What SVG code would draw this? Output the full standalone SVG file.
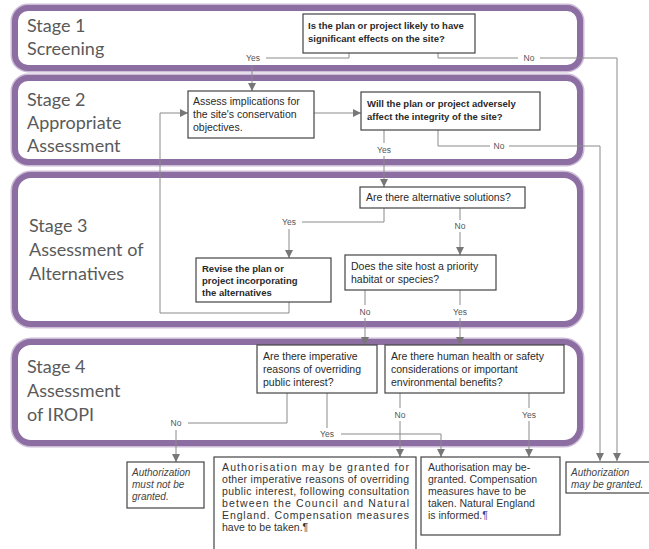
<svg xmlns="http://www.w3.org/2000/svg" width="649" height="549" viewBox="0 0 649 549">
<style>
.stage{fill:#fff;stroke:#8d6ea3;stroke-width:6}
.halo{fill:none;stroke:#cdbcd8;stroke-width:9}
.st{font-family:Lato,"Liberation Sans",sans-serif;font-size:18px;fill:#5a5a5a}
.box{fill:#fff;stroke:#444;stroke-width:1.2}
.q{font-family:"Liberation Sans",Arial,sans-serif;font-size:10.5px;fill:#2a2a2a}
.qb{font-family:"Liberation Sans",Arial,sans-serif;font-size:9.5px;font-weight:bold;fill:#2a2a2a}
.lbl{font-family:"Liberation Sans",Arial,sans-serif;font-size:8.5px;fill:#555;text-anchor:middle}
.it{font-family:"Liberation Sans",Arial,sans-serif;font-size:10px;font-style:italic;fill:#444}
.out{font-family:"Liberation Sans",Arial,sans-serif;font-size:10.5px;fill:#333}
.ln{fill:none;stroke:#8a8a8a;stroke-width:1}
.ar{fill:none;stroke:#8a8a8a;stroke-width:1;marker-end:url(#ah)}
</style>
<defs>
<marker id="ah" markerUnits="userSpaceOnUse" markerWidth="8" markerHeight="8" refX="8" refY="4" orient="auto">
<path d="M0,0 L8,4 L0,8 z" fill="#777"/>
</marker>
</defs>
<rect width="649" height="549" fill="#fff"/>

<g id="stage1">
<rect class="halo" x="15" y="8" width="565" height="60" rx="13"/>
<rect class="stage" x="15" y="8" width="565" height="60" rx="13"/>
<text class="st" x="27" y="32">Stage 1</text>
<text class="st" x="27" y="55">Screening</text>
</g>
<g id="stage2">
<rect class="halo" x="15" y="78" width="565" height="84" rx="13"/>
<rect class="stage" x="15" y="78" width="565" height="84" rx="13"/>
<text class="st" x="27" y="106">Stage 2</text>
<text class="st" x="27" y="129">Appropriate</text>
<text class="st" x="27" y="152">Assessment</text>
</g>
<g id="stage3">
<rect class="halo" x="15" y="175" width="565" height="149" rx="16"/>
<rect class="stage" x="15" y="175" width="565" height="149" rx="16"/>
<text class="st" x="29" y="232">Stage 3</text>
<text class="st" x="29" y="256">Assessment of</text>
<text class="st" x="29" y="280">Alternatives</text>
</g>
<g id="stage4">
<rect class="halo" x="15" y="342" width="565" height="101" rx="16"/>
<rect class="stage" x="15" y="342" width="565" height="101" rx="16"/>
<text class="st" x="27" y="373">Stage 4</text>
<text class="st" x="27" y="397">Assessment</text>
<text class="st" x="27" y="421">of IROPI</text>
</g>

<g id="connectors">
<path class="ln" d="M349,53 V58 H266"/>
<path class="ar" d="M252,65 V91"/>
<path class="ln" d="M438,53 V58 H518"/>
<path class="ar" d="M540,58 H617 V461"/>
<path class="ar" d="M314,113 H361"/>
<path class="ln" d="M384,130 V143"/>
<path class="ar" d="M384,156 V187"/>
<path class="ln" d="M438,130 V146 H490"/>
<path class="ar" d="M509,146 H600 V461"/>
<path class="ln" d="M384,208 V222 H302"/>
<path class="ar" d="M289,229 V258"/>
<path class="ln" d="M460,208 V220"/>
<path class="ar" d="M460,232 V255"/>
<path class="ar" d="M289,302 V313 H160 V113 H188"/>
<path class="ln" d="M365,290 V305"/>
<path class="ar" d="M365,318 V345"/>
<path class="ln" d="M460,290 V305"/>
<path class="ar" d="M460,318 V345"/>
<path class="ln" d="M287,393 V423 H188"/>
<path class="ar" d="M176,430 V462"/>
<path class="ln" d="M327,393 V428"/>
<path class="ar" d="M341,434 H441 V457"/>
<path class="ln" d="M400,393 V408"/>
<path class="ar" d="M400,421 V457"/>
<path class="ln" d="M529,393 V408"/>
<path class="ar" d="M529,421 V457"/>
<text class="lbl" x="253" y="61">Yes</text>
<text class="lbl" x="529" y="61">No</text>
<text class="lbl" x="384" y="153">Yes</text>
<text class="lbl" x="499" y="149">No</text>
<text class="lbl" x="289" y="225">Yes</text>
<text class="lbl" x="460" y="229">No</text>
<text class="lbl" x="365" y="315">No</text>
<text class="lbl" x="460" y="315">Yes</text>
<text class="lbl" x="176" y="426">No</text>
<text class="lbl" x="327" y="437">Yes</text>
<text class="lbl" x="400" y="418">No</text>
<text class="lbl" x="529" y="418">Yes</text>
</g>

<g id="q-screening">
<rect class="box" x="303" y="14" width="172" height="39"/>
<text class="qb" x="308" y="29">Is the plan or project likely to have</text>
<text class="qb" x="308" y="42">significant effects on the site?</text>
</g>
<g id="assess">
<rect class="box" x="188" y="91" width="126" height="47"/>
<text class="q" x="193" y="105">Assess implications for</text>
<text class="q" x="193" y="118">the site's conservation</text>
<text class="q" x="193" y="131">objectives.</text>
</g>
<g id="q-integrity">
<rect class="box" x="361" y="92" width="179" height="38"/>
<text class="qb" x="367" y="107">Will the plan or project adversely</text>
<text class="qb" x="367" y="120">affect the integrity of the site?</text>
</g>
<g id="q-alternatives">
<rect class="box" x="360" y="187" width="165" height="21"/>
<text class="q" x="366" y="201">Are there alternative solutions?</text>
</g>
<g id="revise">
<rect class="box" x="196" y="258" width="135" height="44"/>
<text class="qb" x="202" y="272">Revise the plan or</text>
<text class="qb" x="202" y="284">project incorporating</text>
<text class="qb" x="202" y="296">the alternatives</text>
</g>
<g id="q-priority">
<rect class="box" x="345" y="255" width="151" height="35"/>
<text class="q" x="351" y="270">Does the site host a priority</text>
<text class="q" x="351" y="283">habitat or species?</text>
</g>
<g id="q-iropi">
<rect class="box" x="257" y="345" width="120" height="48"/>
<text class="q" x="263" y="360">Are there imperative</text>
<text class="q" x="263" y="373">reasons of overriding</text>
<text class="q" x="263" y="386">public interest?</text>
</g>
<g id="q-health">
<rect class="box" x="385" y="345" width="179" height="48"/>
<text class="q" x="391" y="360">Are there human health or safety</text>
<text class="q" x="391" y="373">considerations or important</text>
<text class="q" x="391" y="386">environmental benefits?</text>
</g>
<g id="out-refuse">
<rect class="box" x="127" y="462" width="77" height="46"/>
<text class="it" x="132" y="476">Authorization</text>
<text class="it" x="132" y="488">must not be</text>
<text class="it" x="132" y="500">granted.</text>
</g>
<g id="out-iropi">
<rect class="box" x="214" y="457" width="202" height="100"/>
<text class="out" x="222" y="471" textLength="187" lengthAdjust="spacing">Authorisation may be granted for</text>
<text class="out" x="222" y="483" textLength="187" lengthAdjust="spacing">other imperative reasons of overriding</text>
<text class="out" x="222" y="495" textLength="187" lengthAdjust="spacing">public interest, following consultation</text>
<text class="out" x="222" y="507" textLength="187" lengthAdjust="spacing">between the Council and Natural</text>
<text class="out" x="222" y="519" textLength="187" lengthAdjust="spacing">England. Compensation measures</text>
<text class="out" x="222" y="531">have to be taken.¶</text>
</g>
<g id="out-compensation">
<rect class="box" x="421" y="457" width="139" height="78"/>
<text class="out" x="428" y="471">Authorisation may be-</text>
<text class="out" x="428" y="483">granted. Compensation</text>
<text class="out" x="428" y="495">measures have to be</text>
<text class="out" x="428" y="507">taken. Natural England</text>
<text class="out" x="428" y="519">is informed.<tspan fill="#3344aa">¶</tspan></text>
</g>
<g id="out-granted">
<rect class="box" x="566" y="462" width="100" height="31"/>
<text class="it" x="571" y="476">Authorization</text>
<text class="it" x="571" y="488">may be granted.</text>
</g>
</svg>
